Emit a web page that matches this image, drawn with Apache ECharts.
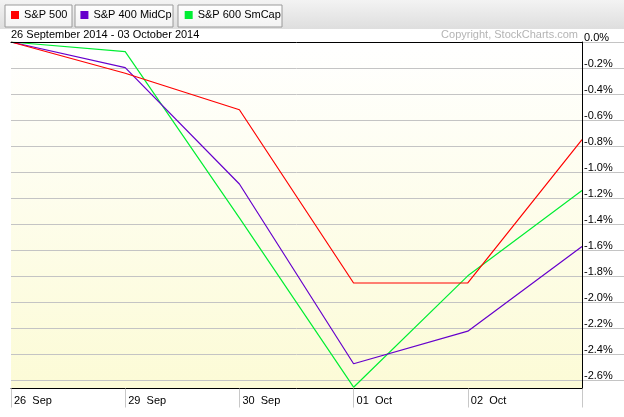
<!DOCTYPE html>
<html>
<head>
<meta charset="utf-8">
<script src="https://cdn.jsdelivr.net/npm/echarts@6/dist/echarts.min.js"></script>
<style>
html,body{margin:0;padding:0;background:#fff;}
#c{width:624px;height:417px;}
</style>
</head>
<body>
<div id="c"></div>
<script>
var categories = ['26 Sep', '29 Sep', '30 Sep', '01 Oct', '02 Oct', '03 Oct'];
var sp500 = [0, -0.24, -0.52, -1.85, -1.85, -0.75];
var sp400 = [0, -0.197, -1.09, -2.47, -2.22, -1.57];
var sp600 = [0, -0.074, -1.35, -2.65, -1.795, -1.14];
var seriesNames = ['S&P 500', 'S&P 400 MidCp', 'S&P 600 SmCap'];
var seriesColors = ['#ff0000', '#6600cc', '#00ee33'];
var dateRange = '26 September 2014 - 03 October 2014';
var copyright = 'Copyright, StockCharts.com';

var FONT = '"Liberation Sans", Arial, sans-serif';
var chart = echarts.init(document.getElementById('c'), null, {renderer: 'canvas'});

function grad(c0, c1) {
  return new echarts.graphic.LinearGradient(0, 0, 0, 1, [{offset: 0, color: c0}, {offset: 1, color: c1}]);
}

var option = {
  animation: false,
  backgroundColor: '#ffffff',
  textStyle: {fontFamily: FONT},
  graphic: [
    {type: 'rect', z: -10, shape: {x: 0, y: 0, width: 624, height: 29}, style: {fill: grad('#f3f3f3', '#dedede')}},
    {type: 'rect', z: -9, shape: {x: 5, y: 5, width: 67, height: 22}, style: {fill: grad('#ffffff', '#f2f2f2'), stroke: '#9a9a9a', lineWidth: 1}},
    {type: 'rect', z: -9, shape: {x: 75, y: 5, width: 98, height: 22}, style: {fill: grad('#ffffff', '#f2f2f2'), stroke: '#9a9a9a', lineWidth: 1}},
    {type: 'rect', z: -9, shape: {x: 178, y: 5, width: 104, height: 22}, style: {fill: grad('#ffffff', '#f2f2f2'), stroke: '#9a9a9a', lineWidth: 1}}
  ],
  title: [
    {text: dateRange, left: 11, top: 29, padding: 0,
     textStyle: {fontSize: 11, fontWeight: 'normal', color: '#000', fontFamily: FONT}},
    {text: copyright, right: 46, top: 29, padding: 0,
     textStyle: {fontSize: 11, fontWeight: 'normal', color: '#b4b4b4', fontFamily: FONT}}
  ],
  legend: {
    data: seriesNames,
    left: 11, top: 9, padding: 0,
    icon: 'rect', itemWidth: 8, itemHeight: 8, itemGap: 13,
    selectedMode: false,
    textStyle: {fontSize: 11, color: '#000', fontFamily: FONT, lineHeight: 12}
  },
  grid: [
    {left: 11, right: 42, top: 42, bottom: 28.5, show: true, borderWidth: 0, borderColor: 'transparent',
     backgroundColor: grad('#ffffff', '#fcfbd6'), z: -5},
    {left: 11, right: 42, top: 42, bottom: 36.3, show: false}
  ],
  xAxis: [
    {type: 'category', gridIndex: 0, data: categories, boundaryGap: false, position: 'bottom', z: 5,
     axisLine: {show: true, onZero: false, lineStyle: {color: '#000', width: 1}},
     axisTick: {show: true, inside: false, length: 19, lineStyle: {color: '#c8c8c8'}},
     axisLabel: {show: true, interval: 0, align: 'left', margin: 7, padding: [0, 0, 0, 3],
       fontSize: 11, color: '#000', fontFamily: FONT,
       formatter: function (v, i) { return i === categories.length - 1 ? '' : v.replace(' ', '  '); }},
     splitLine: {show: false}},
    {type: 'category', gridIndex: 0, data: categories, boundaryGap: false, position: 'top', z: 5,
     axisLine: {show: true, onZero: false, lineStyle: {color: '#000', width: 1}},
     axisTick: {show: false}, axisLabel: {show: false}, splitLine: {show: false}},
    {type: 'category', gridIndex: 1, data: categories, boundaryGap: false, show: false,
     axisLine: {show: false, onZero: false}, axisTick: {show: false}, splitLine: {show: false}, axisLabel: {show: false}}
  ],
  yAxis: [
    {type: 'value', gridIndex: 0, position: 'right', min: -2.66, max: 0, z: 5,
     axisLine: {show: true, onZero: false, lineStyle: {color: '#000', width: 1}},
     axisTick: {show: false}, axisLabel: {show: false}, splitLine: {show: false}},
    {type: 'value', gridIndex: 1, position: 'right', min: -2.6, max: 0, interval: 0.2, z: 1,
     axisLine: {show: false, onZero: false},
     axisTick: {show: true, inside: false, length: 43, lineStyle: {color: '#c4c4c4'}},
     splitLine: {show: true, lineStyle: {color: '#c4c4c4', width: 1}},
     axisLabel: {show: true, margin: 2, verticalAlign: 'bottom', lineHeight: 9,
       fontSize: 11, color: '#000', fontFamily: FONT,
       formatter: function (v) { return v.toFixed(1) + '%'; }}}
  ],
  series: [
    {name: seriesNames[2], type: 'line', xAxisIndex: 0, yAxisIndex: 0, data: sp600, symbol: 'none', z: 3,
     itemStyle: {color: seriesColors[2]}, lineStyle: {color: seriesColors[2], width: 1.2}},
    {name: seriesNames[1], type: 'line', xAxisIndex: 0, yAxisIndex: 0, data: sp400, symbol: 'none', z: 3,
     itemStyle: {color: seriesColors[1]}, lineStyle: {color: seriesColors[1], width: 1.2}},
    {name: seriesNames[0], type: 'line', xAxisIndex: 0, yAxisIndex: 0, data: sp500, symbol: 'none', z: 3,
     itemStyle: {color: seriesColors[0]}, lineStyle: {color: seriesColors[0], width: 1.2}}
  ]
};
chart.setOption(option);
</script>
</body>
</html>
